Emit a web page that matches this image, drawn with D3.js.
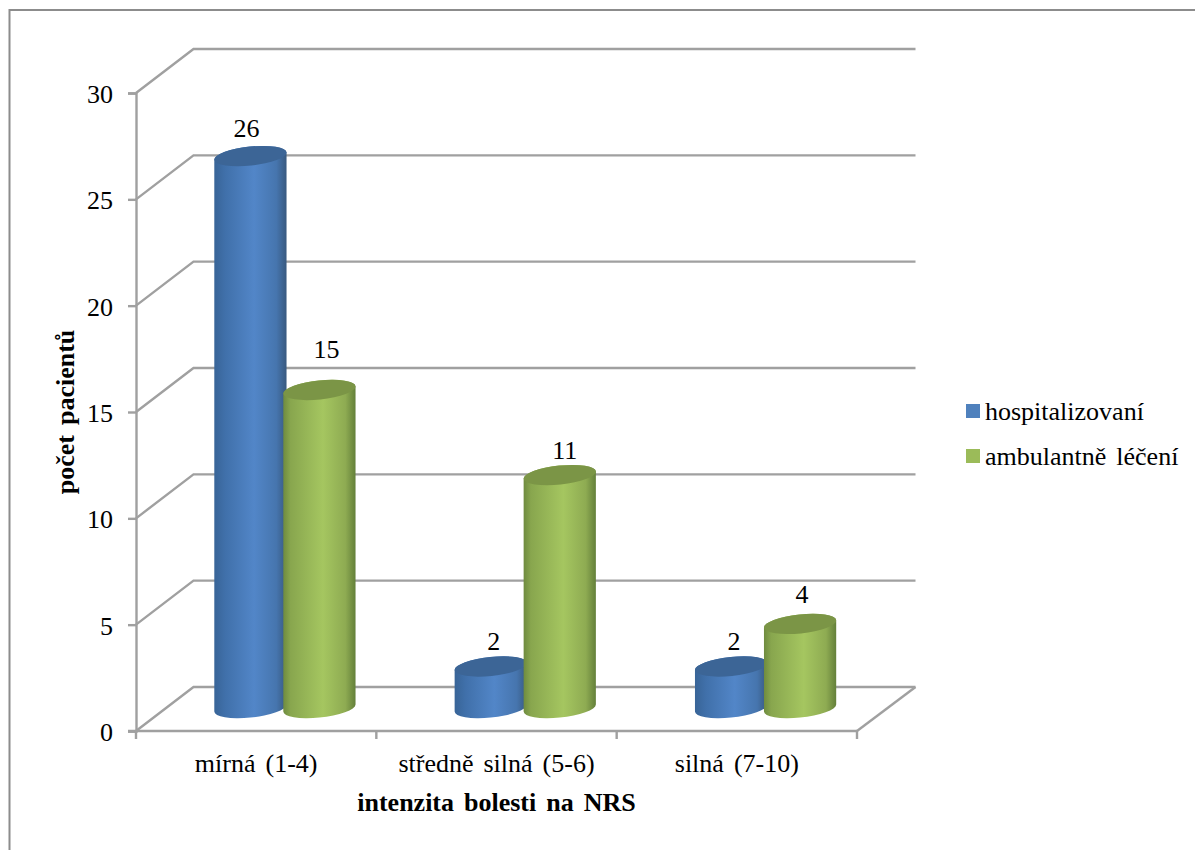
<!DOCTYPE html>
<html>
<head>
<meta charset="utf-8">
<script src="https://cdnjs.cloudflare.com/ajax/libs/d3/7.8.5/d3.min.js"></script>
<style>
html, body { margin: 0; padding: 0; background: #fff; }
svg { display: block; }
text { font-family: "Liberation Serif", "Times New Roman", serif; fill: #000; font-size: 26px; word-spacing: 3.5px; }
</style>
</head>
<body>
<svg id="chart" width="1195" height="850"></svg>
<script>
const categories = ["mírná (1-4)", "středně silná (5-6)", "silná (7-10)"];
const hospitalized = [26, 2, 2];
const outpatient = [15, 11, 4];
const seriesNames = ["hospitalizovaní", "ambulantně léčení"];
const yTicks = [0, 5, 10, 15, 20, 25, 30];

const svg = d3.select("#chart");
const gridColor = "#a0a0a0";

// Front plane of the 3D box; the back wall is offset by the depth vector.
const x = d3.scaleBand().domain(categories).range([136, 857]);
const y = d3.scaleLinear().domain([0, 30]).range([731, 93]);
const depthX = 57.5, depthY = -44;

// Hand-placed data labels: shift from the cap centre, one pair per category.
const blueLabelShift = [[-4, -19], [3, -16], [3, -16]];
const greenLabelShift = [[7, -32], [5, -16], [2, -21]];

// Cylinders stand half way into the depth of the box.
const series = [
  { name: seriesNames[0], values: hospitalized, offset: -34.5, grad: "gradBlue", top: "#3c6596", swatch: "#4f81bd", shift: blueLabelShift },
  { name: seriesNames[1], values: outpatient, offset: 34.5, grad: "gradGreen", top: "#7b9546", swatch: "#9bbb59", shift: greenLabelShift }
];

const defs = svg.append("defs");
function addGradient(id, stops) {
  const g = defs.append("linearGradient").attr("id", id)
    .attr("x1", 0).attr("x2", 1).attr("y1", 0).attr("y2", 0);
  stops.forEach(([o, c]) => g.append("stop").attr("offset", o).attr("stop-color", c));
}
addGradient("gradBlue", [[0, "#386497"], [0.15, "#4070aa"], [0.55, "#5286c8"], [0.86, "#4675ae"], [1, "#38597f"]]);
addGradient("gradGreen", [[0, "#6f8b3f"], [0.1, "#88a64e"], [0.55, "#a5c660"], [0.86, "#8eab52"], [1, "#64803a"]]);

// Chart frame
svg.append("path")
  .attr("d", "M9.5,850V10H1195")
  .attr("fill", "none").attr("stroke", "#8c8c8c").attr("stroke-width", 2);

// Back wall gridlines and the side wall connectors
const grid = svg.append("g").attr("fill", "none").attr("stroke", gridColor).attr("stroke-width", 2.4);
yTicks.forEach(t => {
  grid.append("path").attr("d", d3.line()([
    [x.range()[0], y(t)],
    [x.range()[0] + depthX, y(t) + depthY],
    [x.range()[1] + depthX + 1, y(t) + depthY]
  ]));
});
// Right edge of the floor
grid.append("path").attr("d", d3.line()([
  [x.range()[1], y(0)],
  [x.range()[1] + depthX + 1, y(0) + depthY]
]));

// Value axis
const yAxis = svg.append("g").attr("transform", `translate(${x.range()[0]},0)`)
  .call(d3.axisLeft(y).tickValues(yTicks).tickSize(8).tickPadding(15).tickFormat(d3.format("d")));
yAxis.selectAll("path, line").attr("stroke", gridColor).attr("stroke-width", 2.4);
yAxis.selectAll("text").attr("font-size", null).attr("dy", "0.36em");
yAxis.attr("font-size", null).attr("font-family", null);

// Category axis, ticks on the category boundaries
const xAxisG = svg.append("g").attr("transform", `translate(0,${y(0)})`);
xAxisG.append("line")
  .attr("x1", x.range()[0] - 8).attr("x2", x.range()[1])
  .attr("stroke", gridColor).attr("stroke-width", 2.4);
[...categories.map(c => x(c)), x.range()[1]].forEach(px => {
  xAxisG.append("line").attr("x1", px).attr("x2", px).attr("y1", 0).attr("y2", 8)
    .attr("stroke", gridColor).attr("stroke-width", 2.4);
});
xAxisG.selectAll("text.cat").data(categories).join("text")
  .attr("class", "cat")
  .attr("x", d => x(d) + x.bandwidth() / 2)
  .attr("y", 41)
  .attr("text-anchor", "middle")
  .text(d => d);

// Tilted ellipse of a cylinder cap
const rx = 36.3, ry = 9.5, tilt = -6;
const phi = tilt * Math.PI / 180;
const t0 = Math.atan(-(ry / rx) * Math.tan(phi));
const edgeX = rx * Math.cos(t0) * Math.cos(phi) - ry * Math.sin(t0) * Math.sin(phi);
const edgeY = rx * Math.cos(t0) * Math.sin(phi) + ry * Math.sin(t0) * Math.cos(phi);

function cylinderPath(cx, yTop, yBase) {
  return `M${cx - edgeX},${yTop - edgeY}` +
    `L${cx - edgeX},${yBase - edgeY}` +
    `A${rx},${ry} ${tilt} 0 0 ${cx + edgeX},${yBase + edgeY}` +
    `L${cx + edgeX},${yTop + edgeY}` +
    `A${rx},${ry} ${tilt} 0 0 ${cx - edgeX},${yTop - edgeY}Z`;
}

// Height on the mid-depth plane of the box
const midY = v => y(v) + depthY / 2;

const bars = svg.append("g");
categories.forEach((c, i) => {
  const cx0 = x(c) + x.bandwidth() / 2 + depthX / 2;
  series.forEach(s => {
    const v = s.values[i];
    const cx = cx0 + s.offset;
    bars.append("path")
      .attr("d", cylinderPath(cx, midY(v), midY(0) - 1))
      .attr("fill", `url(#${s.grad})`);
    bars.append("ellipse")
      .attr("rx", rx).attr("ry", ry)
      .attr("transform", `translate(${cx},${midY(v)}) rotate(${tilt})`)
      .attr("fill", s.top);
    bars.append("text")
      .attr("x", cx + s.shift[i][0])
      .attr("y", midY(v) + s.shift[i][1])
      .attr("text-anchor", "middle")
      .text(v);
  });
});

// Axis titles
svg.append("text")
  .attr("x", 496.5).attr("y", 811)
  .attr("text-anchor", "middle").attr("font-weight", "bold")
  .text("intenzita bolesti na NRS");
svg.append("text")
  .attr("transform", "translate(74,412) rotate(-90)")
  .attr("text-anchor", "middle").attr("font-weight", "bold")
  .text("počet pacientů");

// Legend
const legend = svg.append("g");
series.forEach((s, i) => {
  const ly = 412 + i * 45;
  legend.append("rect")
    .attr("x", 966).attr("y", ly - 8).attr("width", 14).attr("height", 14)
    .attr("fill", s.swatch);
  legend.append("text")
    .attr("x", 985).attr("y", ly + 8)
    .text(s.name);
});
</script>
</body>
</html>
